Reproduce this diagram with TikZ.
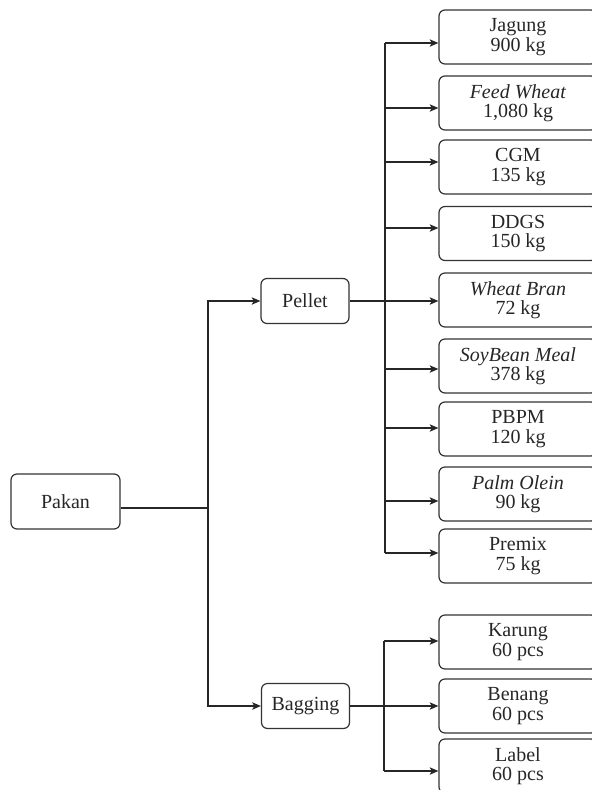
\documentclass[tikz,border=0pt]{standalone}
\usepackage{fontspec}
\setmainfont{Liberation Serif}
\usetikzlibrary{arrows.meta,positioning}

\begin{document}
\begin{tikzpicture}[
	x=0.75pt, y=-0.75pt,
	font=\fontsize{15}{14.5}\selectfont,
	itembox/.style={draw=black!80, rounded corners=4.5pt, line width=0.9pt, align=center, inner sep=2pt, text=black!85},
	groupbox/.style={itembox, minimum width=66pt, minimum height=33.75pt},
	bahanbox/.style={itembox, minimum width=118.5pt, minimum height=40.5pt},
	link/.style={line width=0.95pt, draw=black!85},
	arrow/.style={link, -{Stealth[length=6.5pt, width=5.5pt, inset=1.5pt]}}
]

\clip (0,0) rectangle (592,790);

% Root and the two product groups.
\node[itembox, minimum width=81.75pt, minimum height=41.25pt] (pakan) at (65.5,501.5) {Pakan};
\node[groupbox] (pellet) at (305,301) {Pellet};
\node[groupbox] (bagging) at (305.5,706) {Bagging};

\coordinate (trunk) at (208,508);
\coordinate (pbus) at (385,301);
\coordinate (bbus) at (384,706);

\draw[link] (pakan.east |- trunk) -- (trunk);
\draw[arrow] (trunk) |- (pellet.west);
\draw[arrow] (trunk) |- (bagging.west);

% Pellet ingredients.
\draw[link] (pellet.east) -- (pbus);
\draw[link] (pbus |- 0,43) -- (pbus |- 0,553);
\foreach \name/\yc/\ya/\txt in {
	jagung/37/43/{Jagung\\900 kg},
	feedwheat/103/108/{\textit{Feed Wheat}\\1,080 kg},
	cgm/167/162/{CGM\\135 kg},
	ddgs/233.5/228/{DDGS\\150 kg},
	wheatbran/300/301/{\textit{Wheat Bran}\\72 kg},
	soybean/366/369/{\textit{SoyBean Meal}\\378 kg},
	pbpm/429/428/{PBPM\\120 kg},
	palmolein/494/501/{\textit{Palm Olein}\\90 kg},
	premix/556/553/{Premix\\75 kg}} {
	\node[bahanbox] (\name) at (518,\yc) {\txt};
	\draw[arrow] (pbus |- 0,\ya) -- (\name.west |- 0,\ya);
}

% Bagging materials.
\draw[link] (bagging.east) -- (bbus);
\draw[link] (bbus |- 0,641) -- (bbus |- 0,771);
\foreach \name/\yc/\ya/\txt in {
	karung/642/641/{Karung\\60 pcs},
	benang/706/706/{Benang\\60 pcs},
	labelitem/766/771/{Label\\60 pcs}} {
	\node[bahanbox] (\name) at (518,\yc) {\txt};
	\draw[arrow] (bbus |- 0,\ya) -- (\name.west |- 0,\ya);
}

\end{tikzpicture}
\end{document}
